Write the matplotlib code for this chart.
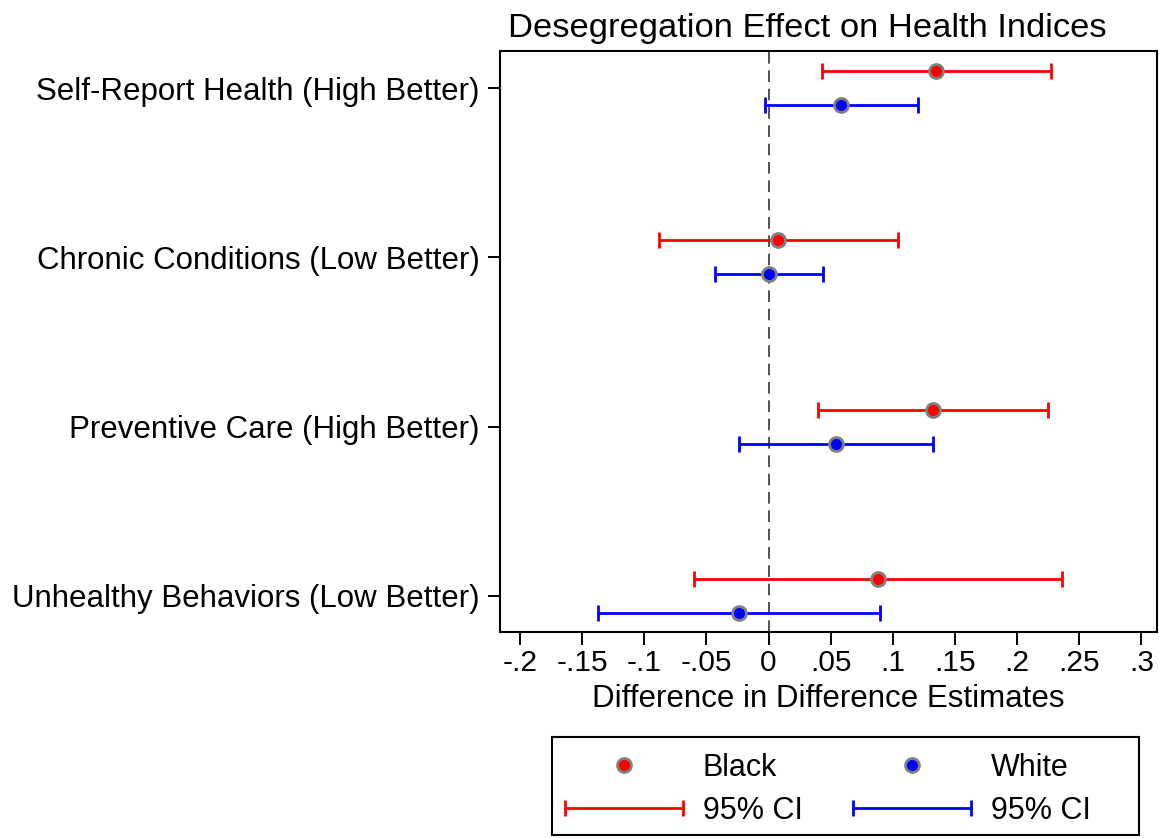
import numpy as np
import matplotlib
matplotlib.use("Agg")
import matplotlib.pyplot as plt
from matplotlib.lines import Line2D
from matplotlib.patches import Rectangle
from matplotlib.legend_handler import HandlerLine2D

plt.rcParams['font.family'] = ['Liberation Sans', 'DejaVu Sans']

# DiD estimates with 95% confidence bounds
outcomes = ["Self-Report Health (High Better)",
            "Chronic Conditions (Low Better)",
            "Preventive Care (High Better)",
            "Unhealthy Behaviors (Low Better)"]
black_est = [0.135, 0.008, 0.132, 0.088]
black_lo = [0.043, -0.088, 0.040, -0.060]
black_hi = [0.227, 0.104, 0.225, 0.236]
white_est = [0.058, 0.000, 0.054, -0.024]
white_lo = [-0.003, -0.043, -0.024, -0.137]
white_hi = [0.120, 0.044, 0.132, 0.090]

xticks = [-0.2, -0.15, -0.1, -0.05, 0, 0.05, 0.1, 0.15, 0.2, 0.25, 0.3]
xticklabels = ["-.2", "-.15", "-.1", "-.05", "0", ".05", ".1", ".15", ".2", ".25", ".3"]

W, H = 1159, 838
fig = plt.figure(figsize=(W / 100, H / 100), dpi=100)
ax = fig.add_axes([0.4314, 0.2458, 0.5669, 0.6933])

ypos = np.arange(len(outcomes), 0, -1)
off = 0.1
msize = 10
lw = 2.0

def draw(est, lo, hi, y, col):
    est = np.array(est)
    err = [est - np.array(lo), np.array(hi) - est]
    ax.errorbar(est, y, xerr=err, fmt='none', ecolor=col, elinewidth=lw,
                capsize=5.8, capthick=lw, zorder=2)
    ax.plot(est, y, 'o', color=col, markersize=msize, markeredgecolor='#7f7f7f',
            markeredgewidth=2, linestyle='none', zorder=3)

ax.axvline(0, color='#333333', linestyle=(0, (7, 4)), linewidth=1.2, zorder=1)
draw(black_est, black_lo, black_hi, ypos + off, 'red')
draw(white_est, white_lo, white_hi, ypos - off, 'blue')

ax.set_xlim(-0.216, 0.3125)
ax.set_ylim(0.787, 4.219)
ax.set_xticks(xticks)
ax.set_xticklabels(xticklabels)
ax.set_yticks(ypos)
ax.set_yticklabels(outcomes)
ax.tick_params(axis='both', length=9, width=1.4, color='black')
ax.tick_params(axis='x', labelsize=21.5, pad=3)
ax.tick_params(axis='y', labelsize=22.5, pad=5.8)
for s in ax.spines.values():
    s.set_linewidth(1.5)
ax.set_xlabel("Difference in Difference Estimates", fontsize=22.5, labelpad=5)
ax.set_title("Desegregation Effect on Health Indices", fontsize=24.8, pad=10, x=0.467)

# legend: marker entries and CI whisker entries
h_b = Line2D([], [], marker='o', color='red', markeredgecolor='#7f7f7f',
             markersize=msize, markeredgewidth=2, linestyle='none')
h_w = Line2D([], [], marker='o', color='blue', markeredgecolor='#7f7f7f',
             markersize=msize, markeredgewidth=2, linestyle='none')
h_bci = Line2D([], [], color='red', linewidth=lw, marker='|', markersize=11.6,
               markeredgewidth=lw)
h_wci = Line2D([], [], color='blue', linewidth=lw, marker='|', markersize=11.6,
               markeredgewidth=lw)
leg = fig.legend([h_b, h_bci, h_w, h_wci], ["Black", "95% CI", "White", "95% CI"],
                 ncol=2, loc='upper left', bbox_to_anchor=(556 / W, 1 - 753 / H),
                 borderaxespad=0, borderpad=0, fontsize=22, frameon=False,
                 handlelength=4.45, handletextpad=0.36, columnspacing=1.34,
                 labelspacing=0.43,
                 handler_map={h_bci: HandlerLine2D(numpoints=2),
                              h_wci: HandlerLine2D(numpoints=2)})
# Stata-style legend box, wider on the right than the entries need
fig.patches.append(Rectangle((552 / W, 3 / H), 587 / W, 98 / H,
                             transform=fig.transFigure, fill=False,
                             edgecolor='black', linewidth=1.5))

fig.savefig("out.png", dpi=100)
